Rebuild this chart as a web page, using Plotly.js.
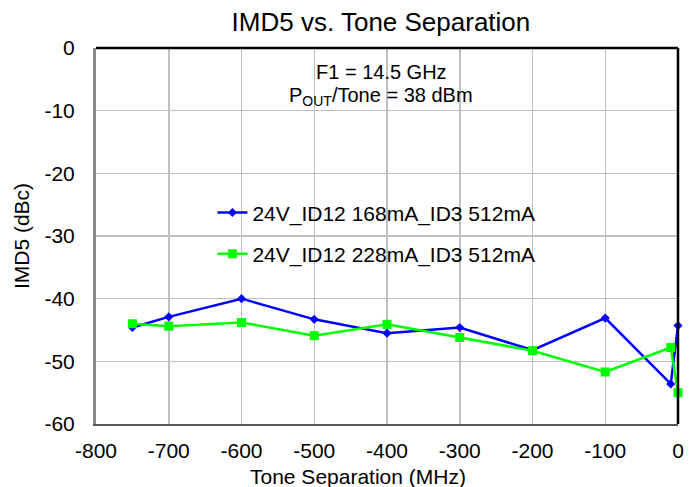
<!DOCTYPE html>
<html>
<head>
<meta charset="utf-8">
<script src="https://cdn.plot.ly/plotly-3.0.1.min.js"></script>
<style>html,body{margin:0;padding:0;background:#fff}#chart{width:699px;height:487px}</style>
</head>
<body>
<div id="chart"></div>
<script>
// Data
var toneSep = [-750, -700, -600, -500, -400, -300, -200, -100, -10, 0];
var imd5_168 = [-44.6, -42.9, -40.0, -43.3, -45.5, -44.6, -48.2, -43.1, -53.6, -44.3];
var imd5_228 = [-44.0, -44.4, -43.8, -45.9, -44.1, -46.2, -48.3, -51.7, -47.8, -55.0];
var seriesNames = ['24V_ID12 168mA_ID3 512mA', '24V_ID12 228mA_ID3 512mA'];
var xTicks = [-800, -700, -600, -500, -400, -300, -200, -100, 0];
var yTicks = [0, -10, -20, -30, -40, -50, -60];

var font = 'Liberation Sans, Arial, sans-serif';

var traces = [
  {
    x: toneSep, y: imd5_168, name: seriesNames[0], type: 'scatter', mode: 'lines+markers',
    line: {color: '#0000ff', width: 2.5},
    marker: {symbol: 'diamond', size: 7, color: '#0000ff'},
    cliponaxis: false, legendgroup: 'a'
  },
  {
    x: toneSep, y: imd5_228, name: seriesNames[1], type: 'scatter', mode: 'lines+markers',
    line: {color: '#00ff00', width: 2.5},
    marker: {symbol: 'square', size: 9, color: '#00ff00'},
    cliponaxis: false, legendgroup: 'b'
  }
];

var layout = {
  width: 699, height: 487,
  margin: {l: 96, r: 21, t: 48, b: 63},
  paper_bgcolor: '#ffffff', plot_bgcolor: '#ffffff',
  font: {family: font, color: '#000', size: 20},
  title: {text: 'IMD5 vs. Tone Separation', font: {family: font, size: 26, color: '#000'},
          x: 0.545, xref: 'container', xanchor: 'center', y: 0.955, yref: 'container', yanchor: 'middle'},
  xaxis: {
    range: [-800, 0], tickvals: xTicks, ticktext: xTicks.map(String),
    showgrid: true, gridcolor: '#c0c0c0', gridwidth: 1.5, zeroline: false,
    showline: true, linecolor: '#555', linewidth: 2, ticks: '', ticklabelstandoff: 7,
    tickfont: {size: 21}
  },
  yaxis: {
    range: [-60, 0], tickvals: yTicks, ticktext: yTicks.map(String),
    showgrid: true, gridcolor: '#c0c0c0', gridwidth: 1.5, zeroline: false,
    showline: true, linecolor: '#888', linewidth: 3, ticks: '', ticklabelstandoff: 14,
    tickfont: {size: 21},
    title: {text: 'IMD5 (dBc)', font: {size: 21}, standoff: 10}
  },
  showlegend: true,
  legend: {
    x: 0.2, xanchor: 'left', y: 0.616, yanchor: 'top',
    bgcolor: 'rgba(0,0,0,0)', borderwidth: 0,
    font: {size: 21}, traceorder: 'grouped', tracegroupgap: 11,
    itemwidth: 30
  },
  shapes: [
    {type: 'rect', xref: 'paper', yref: 'paper', x0: 0.17, x1: 0.808, y0: 0.396, y1: 0.622,
     fillcolor: '#ffffff', line: {width: 0}, layer: 'between'},
    {type: 'rect', xref: 'paper', yref: 'paper', x0: 0.29, x1: 0.69, y0: 0.809, y1: 0.985,
     fillcolor: '#ffffff', line: {width: 0}, layer: 'between'},
    {type: 'line', xref: 'paper', yref: 'paper', x0: 0, x1: 1, y0: 1, y1: 1,
     line: {color: '#000', width: 2.5}},
    {type: 'line', xref: 'paper', yref: 'paper', x0: 1, x1: 1, y0: 0, y1: 1,
     line: {color: '#000', width: 2.5}}
  ],
  annotations: [
    {xref: 'paper', yref: 'paper', x: 0.49, y: 0.935, xanchor: 'center', yanchor: 'middle',
     text: 'F1 = 14.5 GHz', showarrow: false, font: {size: 20}},
    {xref: 'paper', yref: 'paper', x: 0.49, y: 0.87, xanchor: 'center', yanchor: 'middle',
     text: 'P<sub>OUT</sub>/Tone = 38 dBm', showarrow: false, font: {size: 20}},
    {xref: 'paper', yref: 'paper', x: 0.45, y: -0.14, xanchor: 'center', yanchor: 'middle',
     text: 'Tone Separation (MHz)', showarrow: false, font: {size: 21}}
  ]
};

Plotly.newPlot('chart', traces, layout, {displayModeBar: false, staticPlot: true});
</script>
</body>
</html>
